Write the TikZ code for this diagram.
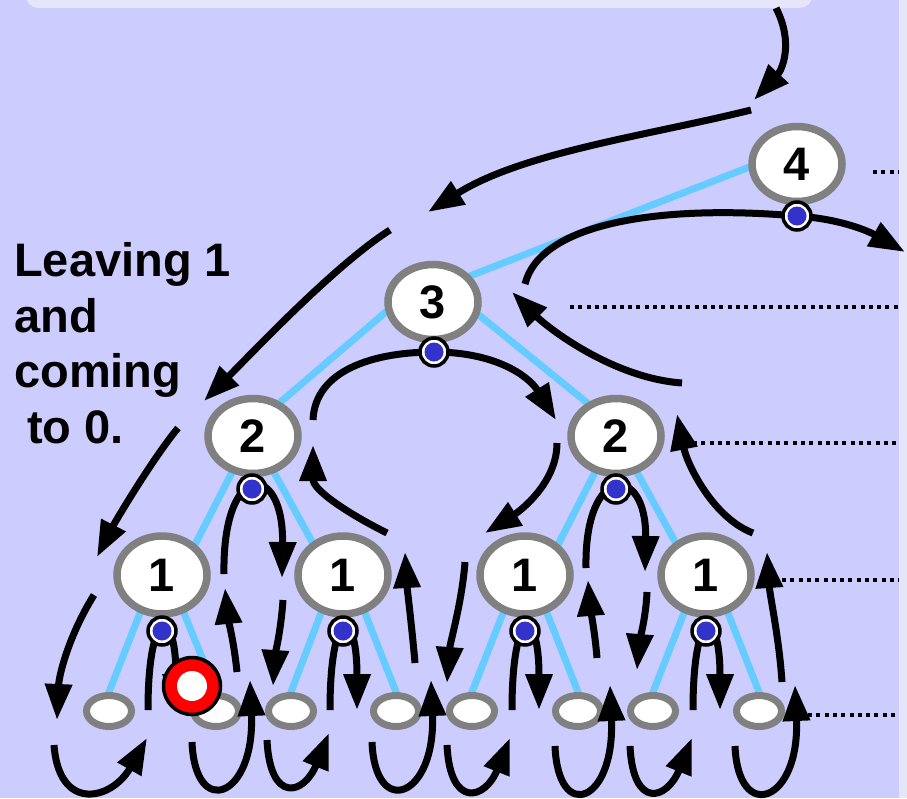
\documentclass[tikz,border=0pt]{standalone}
\usepackage{fontspec}
\setmainfont{Liberation Sans}
\usetikzlibrary{shapes.geometric,arrows.meta}
\definecolor{bgc}{RGB}{204,204,255}
\definecolor{lightc}{RGB}{230,230,250}
\definecolor{graynode}{RGB}{128,128,128}
\definecolor{edgeblue}{RGB}{102,204,255}
\definecolor{dotblue}{RGB}{51,51,204}
\pgfdeclarelayer{bg}
\pgfdeclarelayer{edges}
\pgfsetlayers{bg,edges,main}
\tikzset{
  bignode/.style={ellipse, draw=graynode, fill=white, line width=7.5pt,
    minimum width=90pt, minimum height=75pt, inner sep=0pt,
    font=\fontsize{47}{47}\selectfont\bfseries},
  onenode/.style={bignode, minimum height=78pt},
  leafnode/.style={ellipse, draw=graynode, fill=white, line width=7pt,
    minimum width=45pt, minimum height=31pt, inner sep=0pt},
  treeedge/.style={line width=7pt, draw=edgeblue, shorten <=-5pt, shorten >=-5pt},
  tour/.style={line width=7pt, -{Triangle[length=36pt,width=26pt]}},
  pivot/.style={circle, draw=black, fill=white, line width=3.5pt,
    minimum size=28pt, inner sep=0pt,
    path picture={\fill[dotblue] (path picture bounding box.center) circle[radius=9.5pt];}},
  marker/.style={circle, draw=black, fill=red, line width=3.5pt,
    minimum size=57pt, inner sep=0pt,
    path picture={\fill[white] (path picture bounding box.center) circle[radius=15pt];}},
  levelline/.style={line width=4pt, dash pattern=on 4pt off 4.3pt},
  txt/.style={font=\fontsize{47}{55}\selectfont\bfseries, inner sep=0pt, anchor=base west},
}
\begin{document}
\begin{tikzpicture}[x=1pt,y=-1pt]
\useasboundingbox (0,0) rectangle (907,798);
\begin{pgfonlayer}{bg}
  \fill[bgc] (0,0) rectangle (907,798);
  \fill[lightc] (899,0) rectangle (907,798);
  \draw[lightc, line width=8pt, rounded corners=10pt] (29,-40) rectangle (809,4);
\end{pgfonlayer}

% text
\node[txt] (t1) at (14,276) {Leaving 1};
\node[txt] (t2) at (14,332) {and};
\node[txt] (t3) at (14,387.5) {coming};
\node[txt] (t4) at (14,443.5) {\hspace*{0.278em}to 0.};

% tree nodes
\node[bignode] (n4) at (797,164) {4};
\node[bignode] (n3) at (433,302) {3};
\node[bignode] (n2a) at (253,436) {2};
\node[bignode] (n2b) at (616,436) {2};
\node[onenode] (n1a) at (162,575) {1};
\node[onenode] (n1b) at (343,575) {1};
\node[onenode] (n1c) at (525,575) {1};
\node[onenode] (n1d) at (706,575) {1};
\node[leafnode] (la) at (109,711) {};
\node[leafnode] (lb) at (216,711) {};
\node[leafnode] (lc) at (291,711) {};
\node[leafnode] (ld) at (396,711) {};
\node[leafnode] (le) at (472,711) {};
\node[leafnode] (lf) at (578,711) {};
\node[leafnode] (lg) at (653,711) {};
\node[leafnode] (lh) at (759,711) {};

% tree edges
\begin{pgfonlayer}{edges}
  \draw[treeedge] (n4.184) -- (n3.35);
  \draw[treeedge] (n3.192) -- (n2a.51);
  \draw[treeedge] (n3.344) -- (n2b.131);
  \draw[treeedge] (n2a.240) -- (n1a.43);
  \draw[treeedge] (n2a.300) -- (n1b.133);
  \draw[treeedge] (n2b.240) -- (n1c.43);
  \draw[treeedge] (n2b.300) -- (n1d.133);
  \draw[treeedge] (n1a.240) -- (la.north);
  \draw[treeedge] (n1a.300) -- (lb.north);
  \draw[treeedge] (n1b.240) -- (lc.north);
  \draw[treeedge] (n1b.300) -- (ld.north);
  \draw[treeedge] (n1c.240) -- (le.north);
  \draw[treeedge] (n1c.300) -- (lf.north);
  \draw[treeedge] (n1d.240) -- (lg.north);
  \draw[treeedge] (n1d.300) -- (lh.north);
\end{pgfonlayer}

% level marker lines
\coordinate (m4s) at (873,172); \coordinate (m4e) at (899,172);
\coordinate (m3s) at (570,307); \coordinate (m3e) at (899,307);
\coordinate (m2s) at (693,443); \coordinate (m2e) at (899,443);
\coordinate (m1s) at (782,580); \coordinate (m1e) at (899,580);
\coordinate (m0s) at (808,715); \coordinate (m0e) at (899,715);
\draw[levelline] (m4s) -- (m4e);
\draw[levelline] (m3s) -- (m3e);
\draw[levelline] (m2s) -- (m2e);
\draw[levelline] (m1s) -- (m1e);
\draw[levelline] (m0s) -- (m0e);

% pivot positions
\coordinate (c4) at (797,216);
\coordinate (c3) at (434,352);
\coordinate (c2a) at (252,489);
\coordinate (c2b) at (616,489);
\coordinate (c1a) at (162,631);
\coordinate (c1b) at (343,631);
\coordinate (c1c) at (525,631);
\coordinate (c1d) at (706,631);

% tour arrow end points
\coordinate (a1s) at (776,8);    \coordinate (a1e) at (754,100);
\coordinate (a2s) at (751,110);  \coordinate (a2e) at (428,212);
\coordinate (a3s) at (390,230);  \coordinate (a3e) at (204,401);
\coordinate (a4s) at (178,428);  \coordinate (a4e) at (97,557);
\coordinate (a5s) at (94,595);   \coordinate (a5e) at (57,720);
\coordinate (qas) at (54,745);   \coordinate (qae) at (147,738);
\coordinate (qcs) at (267,740);  \coordinate (qce) at (329,733);
\coordinate (qes) at (447,745);  \coordinate (qee) at (510,738);
\coordinate (qgs) at (630,746);  \coordinate (qge) at (692,738);
\coordinate (qbs) at (192,742);  \coordinate (qbe) at (250,680);
\coordinate (qds) at (372,742);  \coordinate (qde) at (431,680);
\coordinate (qfs) at (555,746);  \coordinate (qfe) at (610,685);
\coordinate (qhs) at (735,746);  \coordinate (qhe) at (795,685);
\coordinate (v1as) at (148,710); \coordinate (v1ae) at (176,710);
\coordinate (v1bs) at (330,710); \coordinate (v1be) at (357,710);
\coordinate (v1cs) at (512,710); \coordinate (v1ce) at (539,710);
\coordinate (v1ds) at (693,710); \coordinate (v1de) at (720,710);
\coordinate (v2as) at (224,574); \coordinate (v2ae) at (282,578);
\coordinate (v2bs) at (586,568); \coordinate (v2be) at (645,572);
\coordinate (v3s) at (313,420);  \coordinate (v3e) at (556,420);
\coordinate (v4s) at (525,284);  \coordinate (v4e) at (905,252);
\coordinate (b1s) at (237,672);  \coordinate (b1e) at (225,588);
\coordinate (b2s) at (283,600);  \coordinate (b2e) at (273,686);
\coordinate (b3s) at (415,663);  \coordinate (b3e) at (405,552);
\coordinate (b4s) at (387,533);  \coordinate (b4e) at (313,445);
\coordinate (b5s) at (557,443);  \coordinate (b5e) at (485,533);
\coordinate (b6s) at (465,562);  \coordinate (b6e) at (447,683);
\coordinate (b7s) at (597,658);  \coordinate (b7e) at (588,580);
\coordinate (b8s) at (647,592);  \coordinate (b8e) at (637,670);
\coordinate (b9s) at (782,682);  \coordinate (b9e) at (767,552);
\coordinate (b10s) at (753,533); \coordinate (b10e) at (677,414);
\coordinate (b11s) at (682,383); \coordinate (b11e) at (512,292);

% descending arrows on the left
\draw[tour] (a1s) .. controls +(18,35) and +(28,-30) .. (a1e);
\draw[tour] (a2s) .. controls +(-100,25) and +(95,-60) .. (a2e);
\draw[tour] (a3s) .. controls +(-55,35) and +(50,-50) .. (a3e);
\draw[tour] (a4s) .. controls +(-25,30) and +(18,-35) .. (a4e);
\draw[tour] (a5s) .. controls +(-25,40) and +(2,-45) .. (a5e);

% loops under the leaves
\draw[tour] (qas) .. controls +(5,68) and +(-35,62) .. (qae);
\draw[tour] (qcs) .. controls +(3,64) and +(-25,62) .. (qce);
\draw[tour] (qes) .. controls +(3,64) and +(-25,62) .. (qee);
\draw[tour] (qgs) .. controls +(3,64) and +(-25,62) .. (qge);
\draw[tour] (qbs) .. controls +(3,78) and +(5,118) .. (qbe);
\draw[tour] (qds) .. controls +(3,78) and +(5,118) .. (qde);
\draw[tour] (qfs) .. controls +(3,78) and +(5,118) .. (qfe);
\draw[tour] (qhs) .. controls +(3,78) and +(5,118) .. (qhe);

% arcs through the pivots
\draw[tour] (v1as) .. controls +(0,-105) and +(0,-105) .. (v1ae);
\draw[tour] (v1bs) .. controls +(0,-105) and +(0,-105) .. (v1be);
\draw[tour] (v1cs) .. controls +(0,-105) and +(0,-105) .. (v1ce);
\draw[tour] (v1ds) .. controls +(0,-105) and +(0,-105) .. (v1de);
\draw[tour] (v2as) .. controls +(-2,-114) and +(2,-118) .. (v2ae);
\draw[tour] (v2bs) .. controls +(-2,-105) and +(2,-109) .. (v2be);
\draw[tour] (v3s) .. controls +(2,-50) and +(-60,0) .. (c3)
                  .. controls +(60,0) and +(-28,-45) .. (v3e);
\draw[tour] (v4s) .. controls +(15,-60) and +(-140,-12) .. (c4)
                  .. controls +(45,3) and +(-35,-20) .. (v4e);

% straight-ish up and down arrows
\draw[tour] (b1s) .. controls +(-3,-30) and +(3,30) .. (b1e);
\draw[tour] (b2s) .. controls +(-2,30) and +(2,-30) .. (b2e);
\draw[tour] (b3s) .. controls +(-3,-35) and +(2,35) .. (b3e);
\draw[tour] (b4s) .. controls +(-40,-20) and +(0,45) .. (b4e);
\draw[tour] (b5s) .. controls +(0,40) and +(35,-22) .. (b5e);
\draw[tour] (b6s) .. controls +(-3,40) and +(3,-40) .. (b6e);
\draw[tour] (b7s) .. controls +(-2,-25) and +(2,25) .. (b7e);
\draw[tour] (b8s) .. controls +(-1,25) and +(2,-25) .. (b8e);
\draw[tour] (b9s) .. controls +(-3,-45) and +(3,45) .. (b9e);
\draw[tour] (b10s) .. controls +(-40,-15) and +(10,50) .. (b10e);
\draw[tour] (b11s) .. controls +(-70,-5) and +(35,35) .. (b11e);

% pivots
\node[pivot] (p4) at (c4) {};
\node[pivot] (p3) at (c3) {};
\node[pivot] (p2a) at (c2a) {};
\node[pivot] (p2b) at (c2b) {};
\node[pivot] (p1a) at (c1a) {};
\node[pivot] (p1b) at (c1b) {};
\node[pivot] (p1c) at (c1c) {};
\node[pivot] (p1d) at (c1d) {};

% current position marker
\node[marker] (cur) at (192,686) {};
\end{tikzpicture}
\end{document}
